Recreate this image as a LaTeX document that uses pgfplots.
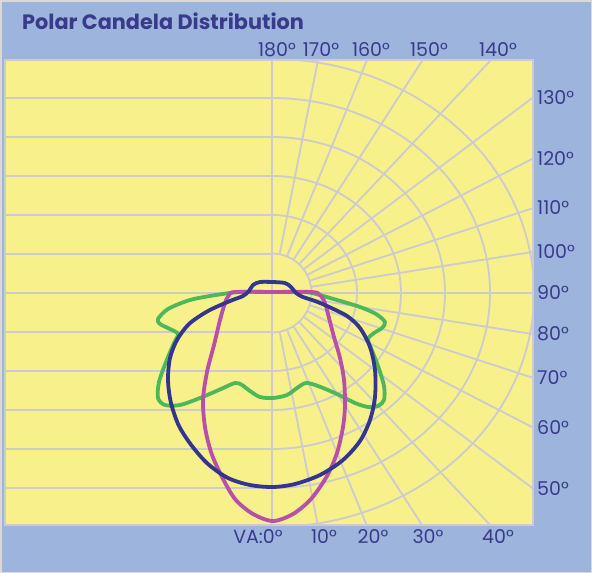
\documentclass[border=0pt]{standalone}
\usepackage{pgfplots}
\pgfplotsset{compat=1.18}
\usepackage{fontspec}
\setmainfont{Poppins}
\definecolor{bgblue}{HTML}{9DB4DD}
\definecolor{plotyel}{HTML}{F8F08A}
\definecolor{gridc}{HTML}{CBCBD0}
\definecolor{txtc}{HTML}{3A3A8C}
\definecolor{cgreen}{HTML}{4DB85A}
\definecolor{cmag}{HTML}{B94FA8}
\definecolor{cnavy}{HTML}{33358E}
\begin{document}
\begin{tikzpicture}[x=1pt,y=-1pt]
% background
\fill[bgblue] (0,0) rectangle (592,573);
\draw[black!15, line width=1.5pt] (0.75,0.75) rectangle (591.25,572.25);
\fill[plotyel] (5,60) rectangle (533,525);
\begin{scope}[gridc, line width=1.8pt]
  \clip (5,60) rectangle (533,525);
  \foreach \k in {1,2,3,4,5} {
    \draw (5,293-39*\k) -- (272,293-39*\k);
    \draw (5,293+39*\k) -- (272,293+39*\k);
  }
  \draw (5,293) -- (533,293);
  \draw (272,60) -- (272,525);
  \begin{scope}
    \clip (272,55) rectangle (540,530);
    \draw (272,293) circle [radius=39.5pt];
    \draw (272,293) ellipse [x radius=85pt, y radius=78pt];
    \draw (272,293) ellipse [x radius=129pt, y radius=117pt];
    \draw (272,293) ellipse [x radius=173pt, y radius=156pt];
    \draw (272,293) ellipse [x radius=218pt, y radius=195pt];
    \draw (272,293) ellipse [x radius=262pt, y radius=234pt];
  \end{scope}
  \foreach \a in {10,20,30,40,50,60,70,80,100,110,120,130,140,150,160,170} {
    \pgfmathsetmacro\sx{1.12*sin(\a)}
    \pgfmathsetmacro\cy{cos(\a)}
    \pgfmathsetmacro\nn{sqrt(\sx*\sx+\cy*\cy)}
    \draw ({272+39.5*\sx/\nn},{293+39.5*\cy/\nn}) -- ({272+700*\sx},{293+700*\cy});
  }
\end{scope}
\draw[black!20, line width=1.8pt] (5,60) rectangle (533,525);
% title
\node[anchor=base west, txtc, inner sep=0pt, font=\fontsize{20.8}{21}\selectfont\bfseries] at (22,29) {Polar Candela Distribution};
% labels
\begin{scope}[every node/.style={txtc, inner sep=0pt, font=\fontsize{19}{19}\selectfont}]
  \node[anchor=base] at (277,56) {180°};
  \node[anchor=base] at (321,56) {170°};
  \node[anchor=base] at (371,56) {160°};
  \node[anchor=base] at (429,56) {150°};
  \node[anchor=base] at (498,56) {140°};
  \node[anchor=base] at (258,543) {VA:0°};
  \node[anchor=base] at (324,543) {10°};
  \node[anchor=base] at (373,543) {20°};
  \node[anchor=base] at (428,543) {30°};
  \node[anchor=base] at (498,543) {40°};
  \node[anchor=west] at (537,97.5) {130°};
  \node[anchor=west] at (537,158.5) {120°};
  \node[anchor=west] at (537,208) {110°};
  \node[anchor=west] at (537,252) {100°};
  \node[anchor=west] at (537,293) {90°};
  \node[anchor=west] at (537,334) {80°};
  \node[anchor=west] at (537,378) {70°};
  \node[anchor=west] at (537,427.5) {60°};
  \node[anchor=west] at (537,488.5) {50°};
\end{scope}
\begin{axis}[at={(5pt,-60pt)}, anchor=north west, scale only axis,
  width=528pt, height=465pt, xmin=5, xmax=533, ymin=60, ymax=525,
  y dir=reverse, hide axis, clip=false]
\addplot[cgreen, line width=3.8pt, smooth, tension=0.5, line join=round] coordinates {
(272,292) (300,292) (312,293) (337,300) (360,307) (376,314) (385,322) (382,328)
(374,333) (368,339) (371,348) (378,366) (384,386) (384,400) (378,406) (368,407)
(355,403) (337,394) (318,386) (306,383) (297,388) (287,395) (273,398) (260,397)
(250,391) (242,385) (235,383) (221,389) (200,398) (180,405) (165,405) (158,398)
(159,382) (166,362) (174,343) (178,334) (170,329) (160,324) (158,319) (168,309)
(190,300) (216,295) (240,292) (272,292)
};
\addplot[cmag, line width=3.8pt, smooth, tension=0.5, line join=round] coordinates {
(272,292) (312,292) (320,295) (325,303) (329,318) (334,337) (340,358) (344,380)
(345,405) (343,427) (337,453) (327,476) (311,499) (293,514) (273,521) (253,514)
(235,499) (221,475) (211,452) (205,427) (203,400) (207,372) (214,345) (220,320)
(225,303) (229,295) (235,292) (272,292)
};
\addplot[cnavy, line width=3.8pt, smooth, tension=0.5, line join=round] coordinates {
(273,282) (285,283) (291,287) (296,293) (303,297) (315,301) (327,306) (347,316)
(360,328) (370,347) (375,370) (375,397) (370,420) (360,441) (343,460) (320,475)
(295,484) (273,487) (250,485) (228,478) (208,464) (192,446) (179,426) (171,403)
(168,380) (170,358) (177,340) (189,324) (208,311) (230,301) (243,296) (249,291)
(253,285) (260,282) (273,282)
};
\end{axis}
\end{tikzpicture}
\end{document}
